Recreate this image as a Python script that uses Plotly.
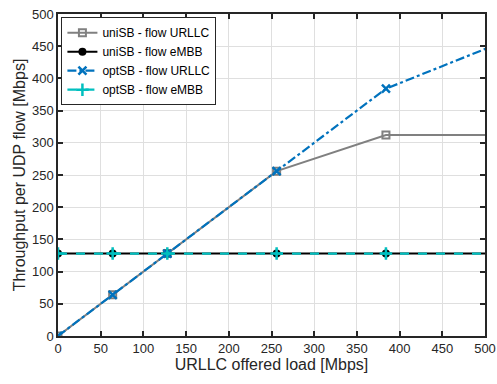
import plotly.graph_objects as go

x_load = [0, 64, 128, 256, 384, 512]
uni_urllc = [0, 64, 128, 256, 312, 312]
uni_embb = [128, 128, 128, 128, 128, 128]
opt_urllc = [0, 64, 128, 256, 384, 452]
opt_embb = [128, 128, 128, 128, 128, 128]

tick_vals = [0, 50, 100, 150, 200, 250, 300, 350, 400, 450, 500]

FONT = "Liberation Sans, Arial"

fig = go.Figure()
fig.add_trace(go.Scatter(x=x_load, y=uni_urllc, name="uniSB - flow URLLC", mode="lines+markers",
                         line=dict(color="#808080", width=2),
                         marker=dict(symbol="square-open", size=7, color="#808080", line=dict(width=2))))
fig.add_trace(go.Scatter(x=x_load, y=uni_embb, name="uniSB - flow eMBB", mode="lines+markers",
                         line=dict(color="black", width=2),
                         marker=dict(symbol="circle", size=8, color="black")))
fig.add_trace(go.Scatter(x=x_load, y=opt_urllc, name="optSB - flow URLLC", mode="lines+markers",
                         line=dict(color="#0072BD", width=2.2, dash="dashdot"),
                         marker=dict(symbol="x-thin-open", size=8, color="#0072BD", line=dict(width=2.5, color="#0072BD"))))
fig.add_trace(go.Scatter(x=x_load, y=opt_embb, name="optSB - flow eMBB", mode="lines+markers",
                         line=dict(color="#00BFBF", width=2.2, dash="dash"),
                         marker=dict(symbol="cross-thin-open", size=9, color="#00BFBF", line=dict(width=2.5, color="#00BFBF"))))

axis_common = dict(showline=True, linecolor="#262626", linewidth=1.5, mirror="allticks",
                   ticks="inside", ticklen=5, tickcolor="#262626", tickwidth=1.5,
                   showgrid=True, gridcolor="#DFDFDF", gridwidth=1.3, zeroline=False,
                   tickfont=dict(family=FONT, size=13, color="#262626"),
                   tickvals=tick_vals, automargin=False)

fig.update_xaxes(range=[0, 500], title=dict(text="URLLC offered load [Mbps]", standoff=2,
                 font=dict(family=FONT, size=16, color="#262626")), **axis_common)
fig.update_yaxes(range=[0, 500], title=dict(text="Throughput per UDP flow [Mbps]", standoff=2,
                 font=dict(family=FONT, size=16, color="#262626")), **axis_common)

fig.update_layout(width=497, height=384, margin=dict(l=58, r=12, t=14, b=48),
                  plot_bgcolor="white", paper_bgcolor="white",
                  legend=dict(x=0.008, y=0.99, xanchor="left", yanchor="top",
                              bgcolor="white", bordercolor="#262626", borderwidth=1,
                              font=dict(family=FONT, size=12, color="black"),
                              tracegroupgap=0, itemwidth=30),
                  showlegend=True)

fig.write_html("out.html", config={"displayModeBar": False},
               post_script="document.body.style.margin='0';document.body.style.overflow='hidden';")
